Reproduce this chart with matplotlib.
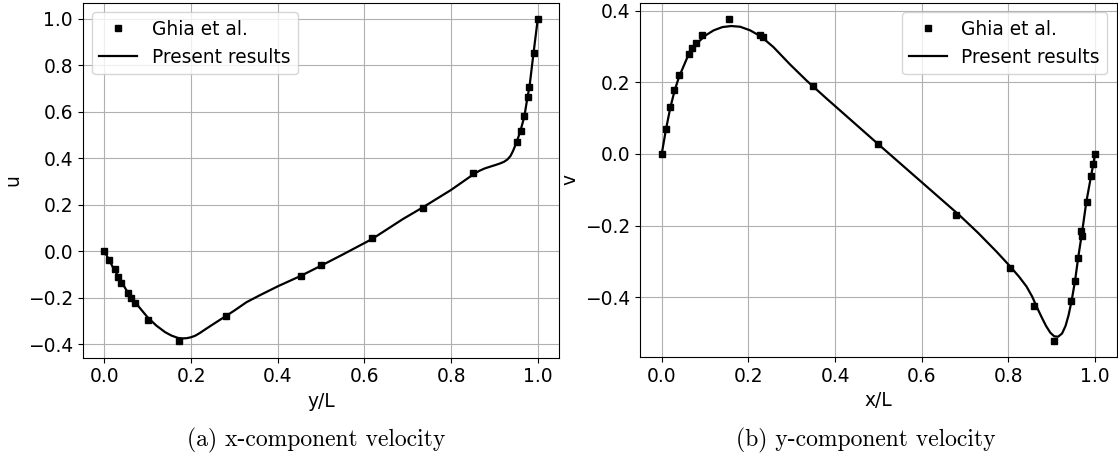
import matplotlib
matplotlib.use("Agg")
import matplotlib.pyplot as plt

# Ghia et al. reference points, u along vertical centreline
ghia_y = [0.0, 0.0117, 0.0234, 0.0313, 0.0391, 0.0547, 0.0625, 0.0703, 0.1016, 0.1719,
          0.2813, 0.4531, 0.5, 0.6172, 0.7344, 0.8516, 0.9531, 0.9609, 0.9688, 0.9766,
          0.9805, 0.9902, 1.0]
ghia_u = [0.0, -0.039, -0.078, -0.109, -0.138, -0.181, -0.202, -0.222, -0.297, -0.388,
          -0.278, -0.106, -0.061, 0.057, 0.187, 0.336, 0.470, 0.516, 0.580, 0.662,
          0.709, 0.852, 1.0]

# Ghia et al. reference points, v along horizontal centreline
ghia_x = [0.0, 0.0094, 0.0195, 0.0293, 0.0391, 0.0625, 0.0703, 0.0781, 0.0938, 0.1563,
          0.2266, 0.2344, 0.35, 0.5, 0.68, 0.8047, 0.8594, 0.9063, 0.9453, 0.9531,
          0.9609, 0.9688, 0.9700, 0.9805, 0.9902, 0.9961, 1.0]
ghia_v = [0.0, 0.071, 0.131, 0.179, 0.219, 0.280, 0.295, 0.310, 0.332, 0.377,
          0.332, 0.326, 0.189, 0.027, -0.171, -0.318, -0.424, -0.522, -0.409, -0.354,
          -0.291, -0.214, -0.228, -0.134, -0.061, -0.029, 0.0]

# present results
sim_y = [0.0, 0.02, 0.05, 0.08, 0.10, 0.12, 0.14, 0.155, 0.17, 0.18, 0.19, 0.2, 0.21,
         0.22, 0.236, 0.26, 0.281, 0.30, 0.328, 0.36, 0.401, 0.453, 0.5, 0.55, 0.617,
         0.69, 0.734, 0.80, 0.853, 0.865, 0.877, 0.89, 0.902, 0.913, 0.922, 0.93,
         0.937, 0.943, 0.952, 0.96, 0.969, 0.976, 0.981, 0.99, 1.0]
sim_u = [0.0, -0.07, -0.165, -0.24, -0.285, -0.32, -0.348, -0.363, -0.373, -0.375,
         -0.374, -0.37, -0.363, -0.352, -0.332, -0.303, -0.278, -0.255, -0.219, -0.188,
         -0.150, -0.106, -0.062, -0.014, 0.052, 0.140, 0.188, 0.264, 0.333, 0.346,
         0.356, 0.364, 0.371, 0.378, 0.385, 0.395, 0.41, 0.432, 0.474, 0.518, 0.58,
         0.66, 0.71, 0.85, 1.0]

sim_x = [0.0, 0.01, 0.02, 0.03, 0.04, 0.06, 0.08, 0.10, 0.12, 0.14, 0.16, 0.181,
         0.204, 0.23, 0.258, 0.296, 0.335, 0.381, 0.427, 0.5, 0.604, 0.688, 0.73,
         0.773, 0.805, 0.825, 0.842, 0.855, 0.866, 0.877, 0.887, 0.897, 0.906, 0.915,
         0.924, 0.932, 0.939, 0.946, 0.954, 0.961, 0.97, 0.98, 0.991, 0.996, 1.0]
sim_v = [0.0, 0.07, 0.13, 0.178, 0.215, 0.272, 0.307, 0.33, 0.345, 0.354, 0.357,
         0.355, 0.345, 0.327, 0.298, 0.250, 0.204, 0.154, 0.105, 0.027, -0.083,
         -0.172, -0.22, -0.273, -0.315, -0.343, -0.37, -0.398, -0.428, -0.456,
         -0.48, -0.499, -0.509, -0.51, -0.501, -0.48, -0.45, -0.41, -0.354, -0.291,
         -0.22, -0.134, -0.061, -0.029, 0.0]

plt.rcParams['font.size'] = 13.4

fig = plt.figure(figsize=(11.18, 4.59), dpi=100)
ax1 = fig.add_axes([0.074, 0.221, 0.4264, 0.773])
ax2 = fig.add_axes([0.5725, 0.222, 0.4263, 0.772])

# (a) u-velocity
ax1.plot(ghia_y, ghia_u, 's', color='black', markersize=4.5, label='Ghia et al.', zorder=3)
ax1.plot(sim_y, sim_u, '-', color='black', linewidth=1.6, label='Present results')
ax1.set_xlabel('y/L')
ax1.set_ylabel('u')
ax1.grid(True)
ax1.legend(loc='upper left')

# (b) v-velocity
ax2.plot(ghia_x, ghia_v, 's', color='black', markersize=4.5, label='Ghia et al.', zorder=3)
ax2.plot(sim_x, sim_v, '-', color='black', linewidth=1.6, label='Present results')
ax2.set_xlabel('x/L')
ax2.set_ylabel('v')
ax2.grid(True)
ax2.legend(loc='upper right')

fig.text(0.283, 0.041, '(a) x-component velocity', ha='center', va='center',
         family='cmr10', fontsize=17)
fig.text(0.774, 0.041, '(b) y-component velocity', ha='center', va='center',
         family='cmr10', fontsize=17)

fig.savefig('out.png', dpi=100)
